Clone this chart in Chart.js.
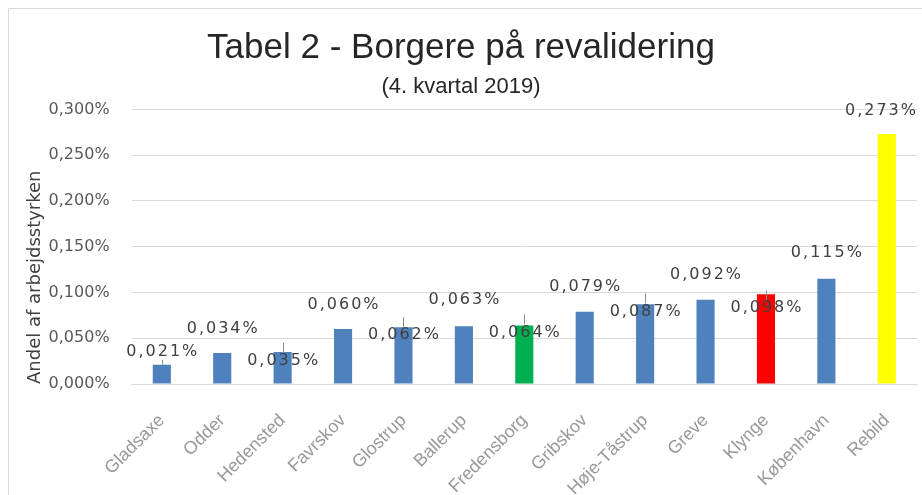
<!DOCTYPE html>
<html>
<head>
<meta charset="utf-8">
<script src="https://cdn.jsdelivr.net/npm/chart.js@4.4.1/dist/chart.umd.min.js"></script>
<style>
  body { margin: 0; background: #fff; }
</style>
</head>
<body>
<canvas id="myChart" width="922" height="495"></canvas>
<script>
const kommuner = ["Gladsaxe", "Odder", "Hedensted", "Favrskov", "Glostrup", "Ballerup", "Fredensborg",
  "Gribskov", "Høje-Tåstrup", "Greve", "Klynge", "København", "Rebild"];
const andel = [0.021, 0.034, 0.035, 0.060, 0.062, 0.063, 0.064, 0.079, 0.087, 0.092, 0.098, 0.115, 0.273];
const yTicks = [0, 0.05, 0.1, 0.15, 0.2, 0.25, 0.3];

const blue = "rgb(79,129,189)";
const barColors = kommuner.map(function (k) {
  if (k === "Fredensborg") return "rgb(0,176,80)";
  if (k === "Klynge") return "rgb(255,0,0)";
  if (k === "Rebild") return "rgb(255,255,0)";
  return blue;
});

// vertical shift of each value label relative to the bar top (excel moved some of them)
const labelShift = [-13, -24, 9, -24, 8, -26, 7, -25, 7, -25, 14, -26, -23];

function pct(v) {
  return v.toFixed(3).replace(".", ",") + "%";
}

const frame = {
  id: "frame",
  afterLayout(chart) {
    // title and subtitle are centred on the whole picture, not on the padded box
    chart.boxes.forEach(function (box) {
      if (box.options && box.options.text !== undefined && box.fullSize) {
        const d = chart.width / 2 - (box.left + box.right) / 2;
        box.left += d;
        box.right += d;
      }
    });
  },
  beforeDraw(chart) {
    const ctx = chart.ctx;
    ctx.save();
    ctx.fillStyle = "#fff";
    ctx.fillRect(0, 0, chart.width, chart.height);
    ctx.strokeStyle = "#d9d9d9";
    ctx.lineWidth = 1;
    ctx.beginPath();
    ctx.moveTo(8.5, chart.height);
    ctx.lineTo(8.5, 8.5);
    ctx.lineTo(chart.width, 8.5);
    ctx.stroke();
    ctx.restore();
  },
};

const barLabels = {
  id: "barLabels",
  afterDatasetsDraw(chart) {
    const ctx = chart.ctx;
    const meta = chart.getDatasetMeta(0);
    ctx.save();
    ctx.font = '16px "DejaVu Sans"';
    ctx.letterSpacing = "2px";
    ctx.fillStyle = "#404040";
    ctx.textAlign = "center";
    ctx.textBaseline = "middle";
    ctx.strokeStyle = "#8c8c8c";
    ctx.lineWidth = 1;
    meta.data.forEach(function (bar, i) {
      const y = bar.y + labelShift[i];
      const x = Math.round(bar.x) + 0.5;
      if (labelShift[i] > 0) {
        ctx.beginPath();
        ctx.moveTo(x, y - 8);
        ctx.lineTo(x, y - 18);
        ctx.stroke();
      } else if (labelShift[i] > -20) {
        ctx.beginPath();
        ctx.moveTo(x, y + 8);
        ctx.lineTo(x, bar.y);
        ctx.stroke();
      }
      const text = pct(andel[i]);
      const half = ctx.measureText(text).width / 2;
      const tx = Math.min(bar.x + 1, chart.width - 4 - half);
      ctx.fillText(text, tx, y);
    });
    ctx.restore();
  },
};

new Chart(document.getElementById("myChart"), {
  type: "bar",
  data: {
    labels: kommuner,
    datasets: [
      {
        data: andel,
        backgroundColor: barColors,
        borderWidth: 0,
        barPercentage: 0.3,
        categoryPercentage: 1,
      },
    ],
  },
  options: {
    responsive: false,
    animation: false,
    layout: {
      padding: { left: 25, right: 5, top: 27, bottom: 0 },
    },
    scales: {
      x: {
        grid: { display: false },
        border: { display: true, color: "#d9d9d9" },
        // the long names run off the bottom edge, as in the original
        afterFit: function (scale) {
          scale.height = 111;
        },
        ticks: {
          maxRotation: 45,
          minRotation: 45,
          padding: 18,
          color: "#999999",
          font: { family: "Liberation Sans", size: 18 },
        },
      },
      y: {
        min: 0,
        max: 0.3,
        afterBuildTicks: function (axis) {
          axis.ticks = yTicks.map(function (v) { return { value: v }; });
        },
        grid: { color: "#d9d9d9", drawTicks: false },
        border: { display: false },
        ticks: {
          padding: 22,
          color: "#595959",
          font: { family: "DejaVu Sans", size: 16 },
          callback: function (value) {
            return pct(value);
          },
        },
        title: {
          display: true,
          text: "Andel af arbejdsstyrken",
          align: "start",
          color: "#404040",
          font: { family: "DejaVu Sans", size: 18 },
          padding: { top: 0, bottom: -20 },
        },
      },
    },
    plugins: {
      legend: { display: false },
      tooltip: { enabled: false },
      title: {
        display: true,
        text: "Tabel 2 - Borgere på revalidering",
        color: "#262626",
        font: { family: "Liberation Sans", size: 35, weight: "normal" },
        padding: { top: 0, bottom: 5 },
      },
      subtitle: {
        display: true,
        text: "(4. kvartal 2019)",
        color: "#262626",
        font: { family: "Liberation Sans", size: 22 },
        padding: { top: 0, bottom: 9 },
      },
    },
  },
  plugins: [frame, barLabels],
});
</script>
</body>
</html>
